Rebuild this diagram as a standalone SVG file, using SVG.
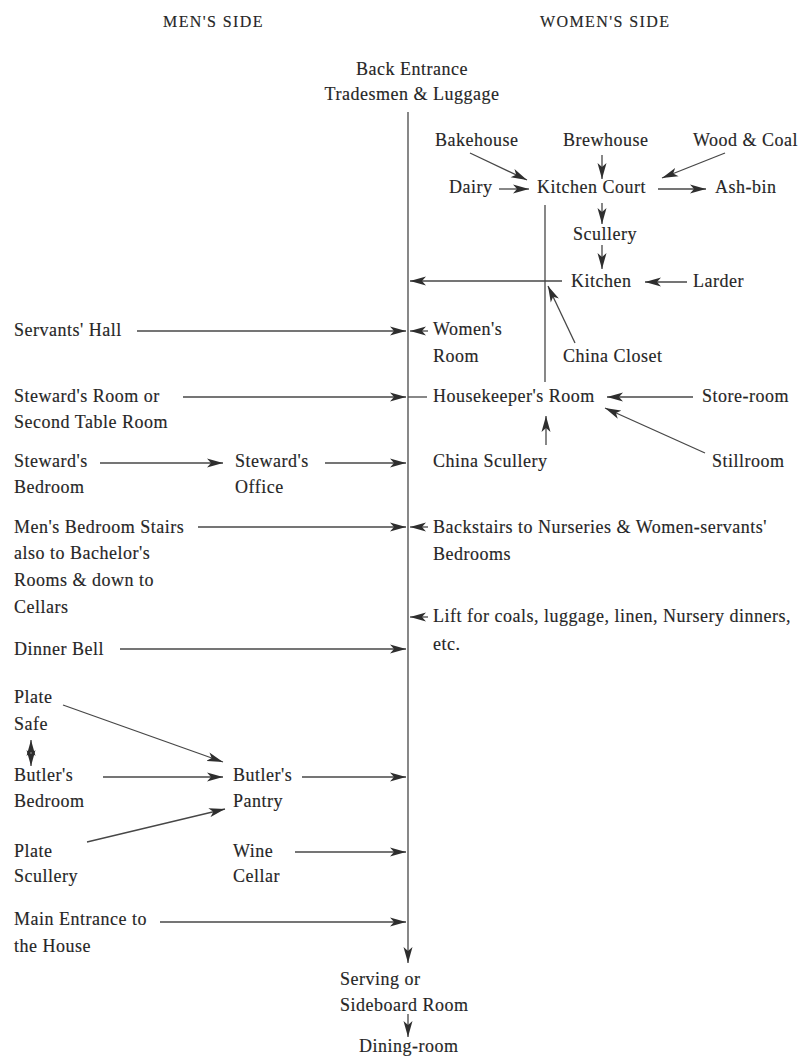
<svg xmlns="http://www.w3.org/2000/svg" width="802" height="1059" viewBox="0 0 802 1059">
<style>
text{font-family:"Liberation Serif","Times New Roman",serif;font-size:18px;letter-spacing:0.5px;fill:#262626;stroke:#262626;stroke-width:0.15px}
.hd{font-size:16px;letter-spacing:1.4px}
.mid{text-anchor:middle}
.c line,.c path{stroke:#474747;stroke-width:1.3;fill:none}
.a{marker-end:url(#ah)}
.d{marker-start:url(#ah);marker-end:url(#ah)}
</style>
<defs>
<marker id="ah" viewBox="0 0 16 10" refX="16" refY="5" markerWidth="16" markerHeight="10" markerUnits="userSpaceOnUse" orient="auto-start-reverse">
<path d="M0,0.5 L16,5 L0,9.5 L4,5 z" fill="#2e2e2e"/>
</marker>
</defs>
<rect width="802" height="1059" fill="#fff"/>

<g id="headers">
<text class="hd" x="163" y="27">MEN'S SIDE</text>
<text class="hd" x="540" y="27">WOMEN'S SIDE</text>
</g>

<g class="c" id="connectors">
<line class="a" x1="408" y1="112" x2="408" y2="963"/>
<line class="a" x1="470" y1="153" x2="527" y2="180"/>
<line class="a" x1="602" y1="155" x2="602" y2="179"/>
<line class="a" x1="725" y1="153" x2="662" y2="178"/>
<line class="a" x1="499" y1="189" x2="529" y2="189"/>
<line class="a" x1="658" y1="189" x2="706" y2="189"/>
<line class="a" x1="602" y1="203" x2="602" y2="224"/>
<line class="a" x1="602" y1="245" x2="602" y2="269"/>
<line class="a" x1="687" y1="282" x2="645" y2="282"/>
<line class="a" x1="562" y1="281" x2="410" y2="281"/>
<line x1="545" y1="205" x2="545" y2="382"/>
<line class="a" x1="575" y1="343" x2="548" y2="286"/>
<line class="a" x1="137" y1="331" x2="406" y2="331"/>
<line class="a" x1="428" y1="331" x2="410" y2="331"/>
<line class="a" x1="183" y1="397" x2="406" y2="397"/>
<line x1="408" y1="397" x2="427" y2="397"/>
<line class="a" x1="693" y1="397" x2="607" y2="397"/>
<line class="a" x1="705" y1="453" x2="605" y2="408"/>
<line class="a" x1="546" y1="445" x2="546" y2="416"/>
<line class="a" x1="100" y1="463" x2="223" y2="463"/>
<line class="a" x1="325" y1="463" x2="406" y2="463"/>
<line class="a" x1="198" y1="527" x2="406" y2="527"/>
<line class="a" x1="428" y1="527" x2="410" y2="527"/>
<line class="a" x1="428" y1="617" x2="410" y2="617"/>
<line class="a" x1="120" y1="649" x2="406" y2="649"/>
<line class="a" x1="63" y1="705" x2="223" y2="762"/>
<line class="a" x1="103" y1="777" x2="223" y2="777"/>
<line class="a" x1="87" y1="842" x2="225" y2="809"/>
<line class="a" x1="302" y1="777" x2="406" y2="777"/>
<line class="a" x1="295" y1="852" x2="406" y2="852"/>
<line class="a" x1="160" y1="922" x2="406" y2="922"/>
<line class="d" x1="31" y1="740" x2="31" y2="766"/>
<line class="a" x1="408" y1="1014" x2="408" y2="1037"/>
</g>

<g id="back-entrance"><text class="mid" x="412" y="75">Back Entrance</text><text class="mid" x="412" y="100">Tradesmen &amp; Luggage</text></g>
<g id="bakehouse"><text x="435" y="146">Bakehouse</text></g>
<g id="brewhouse"><text x="563" y="146">Brewhouse</text></g>
<g id="wood-coal"><text x="693" y="146">Wood &amp; Coal</text></g>
<g id="dairy"><text x="449" y="193">Dairy</text></g>
<g id="kitchen-court"><text x="537" y="193">Kitchen Court</text></g>
<g id="ash-bin"><text x="715" y="193">Ash-bin</text></g>
<g id="scullery"><text x="573" y="240">Scullery</text></g>
<g id="kitchen"><text x="571" y="287">Kitchen</text></g>
<g id="larder"><text x="693" y="287">Larder</text></g>
<g id="servants-hall"><text x="14" y="336">Servants' Hall</text></g>
<g id="womens-room"><text x="433" y="335">Women's</text><text x="433" y="362">Room</text></g>
<g id="china-closet"><text x="563" y="362">China Closet</text></g>
<g id="stewards-room"><text x="14" y="402">Steward's Room or</text><text x="14" y="428">Second Table Room</text></g>
<g id="housekeepers-room"><text x="433" y="402">Housekeeper's Room</text></g>
<g id="store-room"><text x="702" y="402">Store-room</text></g>
<g id="stewards-bedroom"><text x="14" y="467">Steward's</text><text x="14" y="493">Bedroom</text></g>
<g id="stewards-office"><text x="235" y="467">Steward's</text><text x="235" y="493">Office</text></g>
<g id="china-scullery"><text x="433" y="467">China Scullery</text></g>
<g id="stillroom"><text x="712" y="467">Stillroom</text></g>
<g id="mens-stairs"><text x="14" y="533">Men's Bedroom Stairs</text><text x="14" y="559">also to Bachelor's</text><text x="14" y="586">Rooms &amp; down to</text><text x="14" y="613">Cellars</text></g>
<g id="backstairs"><text x="433" y="533">Backstairs to Nurseries &amp; Women-servants'</text><text x="433" y="560">Bedrooms</text></g>
<g id="lift"><text x="433" y="622">Lift for coals, luggage, linen, Nursery dinners,</text><text x="433" y="650">etc.</text></g>
<g id="dinner-bell"><text x="14" y="655">Dinner Bell</text></g>
<g id="plate-safe"><text x="14" y="703">Plate</text><text x="14" y="730">Safe</text></g>
<g id="butlers-bedroom"><text x="14" y="781">Butler's</text><text x="14" y="807">Bedroom</text></g>
<g id="butlers-pantry"><text x="233" y="781">Butler's</text><text x="233" y="807">Pantry</text></g>
<g id="plate-scullery"><text x="14" y="857">Plate</text><text x="14" y="882">Scullery</text></g>
<g id="wine-cellar"><text x="233" y="857">Wine</text><text x="233" y="882">Cellar</text></g>
<g id="main-entrance"><text x="14" y="925">Main Entrance to</text><text x="14" y="952">the House</text></g>
<g id="serving-room"><text x="340" y="985">Serving or</text><text x="340" y="1011">Sideboard Room</text></g>
<g id="dining-room"><text x="359" y="1052">Dining-room</text></g>
</svg>
